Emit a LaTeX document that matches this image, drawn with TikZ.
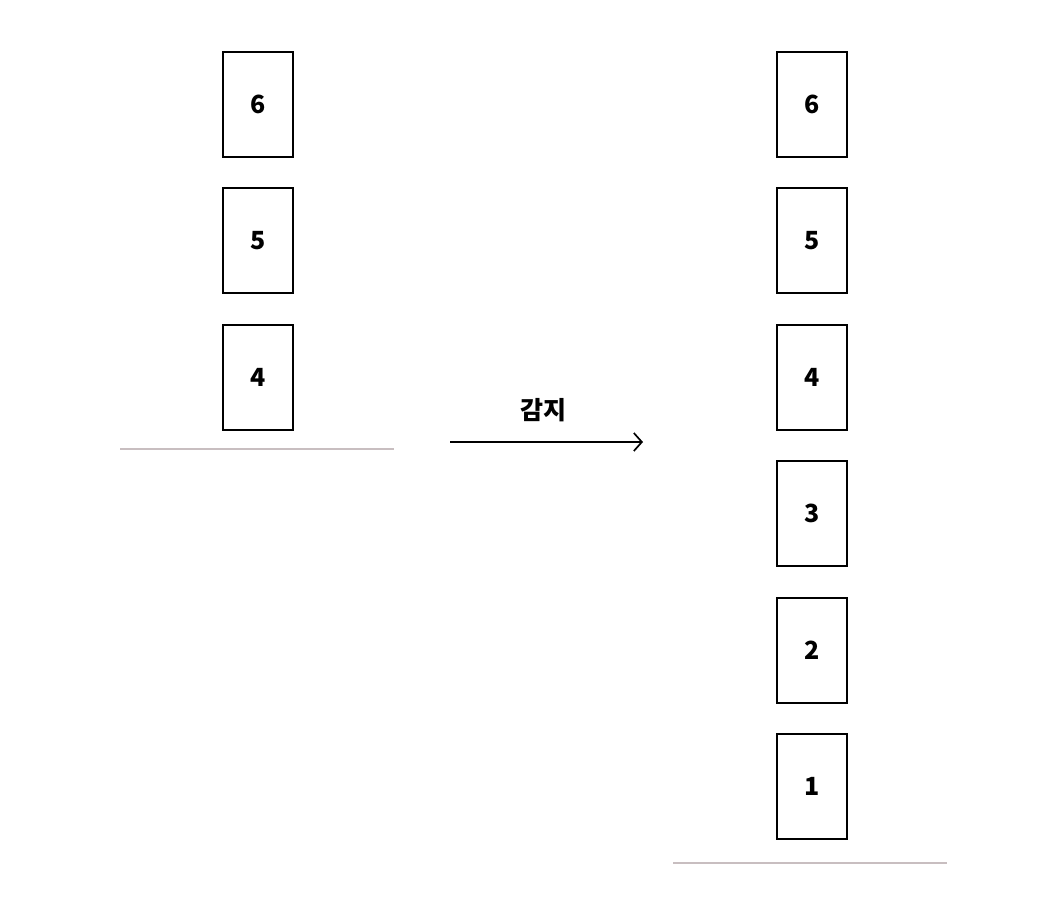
\documentclass[tikz,border=0pt]{standalone}
\usepackage{fontspec}
\setmainfont{Noto Sans CJK KR}
\usetikzlibrary{arrows.meta}
\definecolor{floor}{RGB}{200,190,192}
\begin{document}
\begin{tikzpicture}[x=1pt,y=-1pt,
  card/.style={draw=black,line width=2.2pt,minimum width=70pt,minimum height=105pt,inner sep=0pt,font=\fontsize{25}{28}\selectfont\bfseries},
  floorline/.style={draw=floor,line width=2.2pt},
  flow/.style={draw=black,line width=1.7pt,-{Straight Barb[length=8pt,width=18pt,line width=1.7pt]}}]
\useasboundingbox (0,0) rectangle (1052,922);
% left column
\node[card] (l6) at (258,104.5) {6};
\node[card] (l5) at (258,240.5) {5};
\node[card] (l4) at (258,377.5) {4};
\coordinate (lf1) at (120,449);
\coordinate (lf2) at (394,449);
\draw[floorline] (lf1) -- (lf2);
% arrow
\coordinate (a1) at (450,442);
\coordinate (a2) at (643,442);
\draw[flow] (a1) -- (a2);
\node[font=\fontsize{25}{28}\selectfont\bfseries] (lbl) at (543,410) {감지};
% right column
\node[card] (r6) at (812,104.5) {6};
\node[card] (r5) at (812,240.5) {5};
\node[card] (r4) at (812,377.5) {4};
\node[card] (r3) at (812,513.5) {3};
\node[card] (r2) at (812,650.5) {2};
\node[card] (r1) at (812,786.5) {1};
\coordinate (rf1) at (673,863);
\coordinate (rf2) at (947,863);
\draw[floorline] (rf1) -- (rf2);
\end{tikzpicture}
\end{document}
